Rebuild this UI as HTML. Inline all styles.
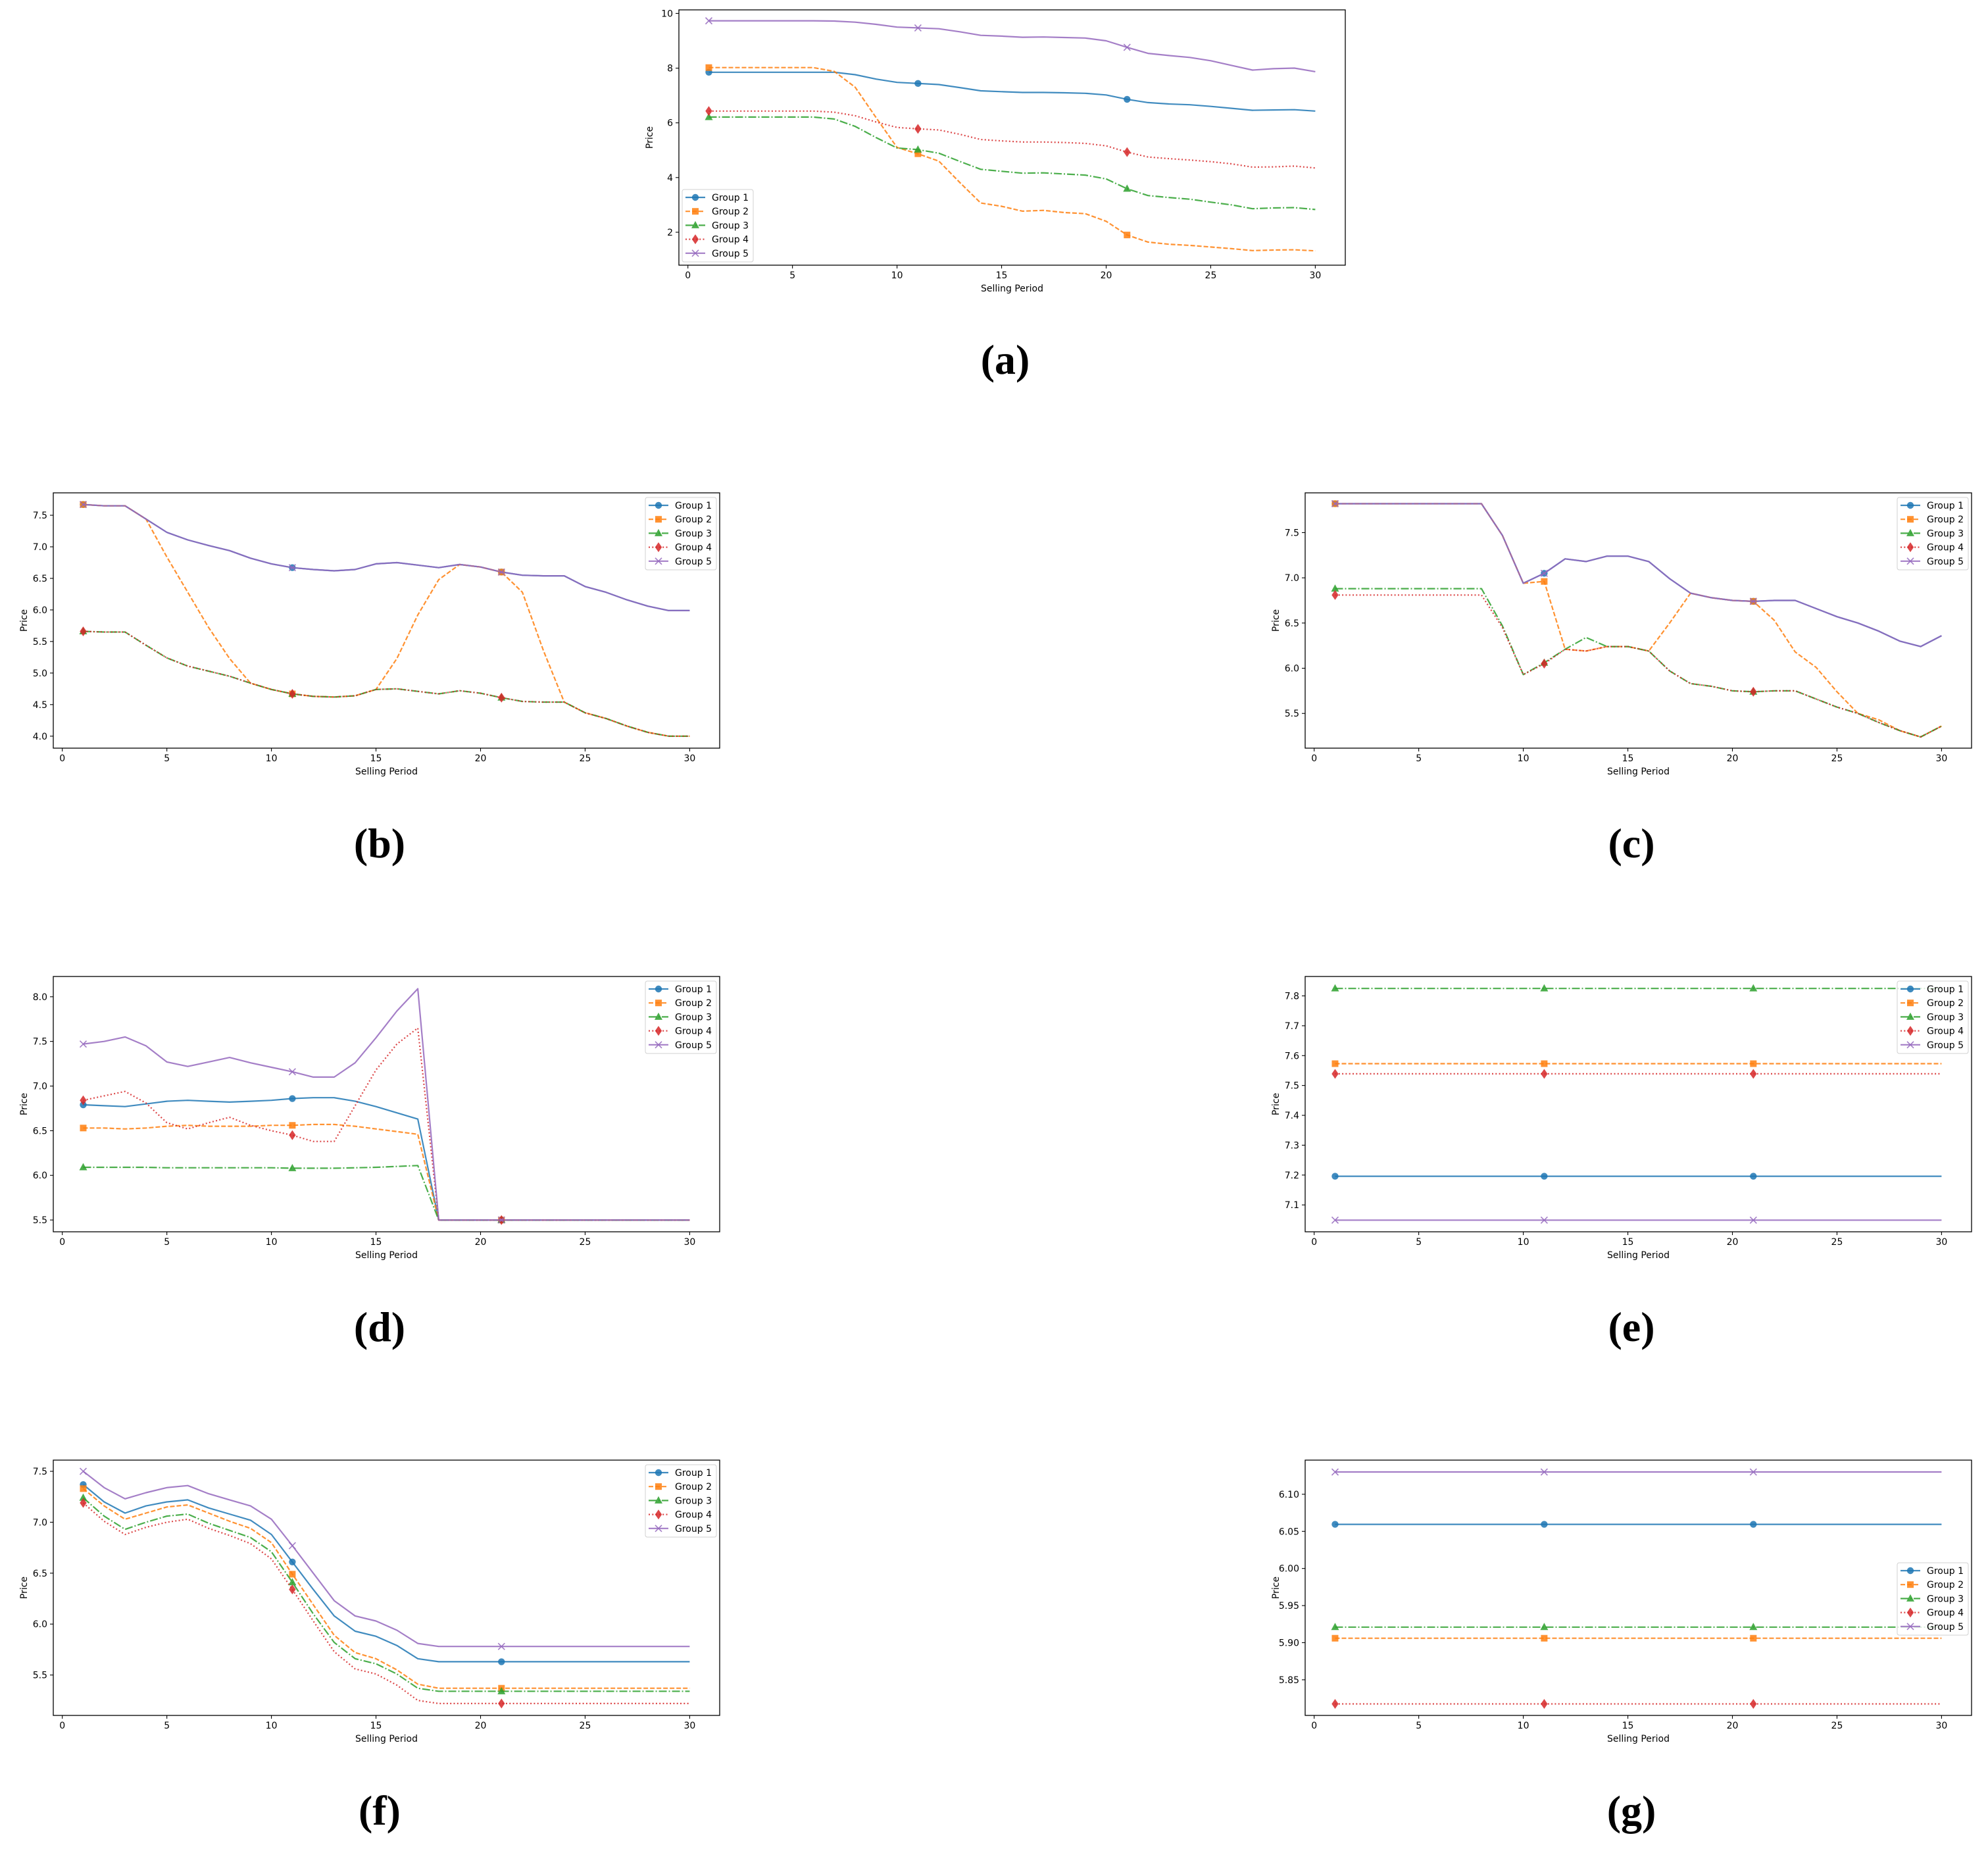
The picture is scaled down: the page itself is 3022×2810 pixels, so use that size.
<!DOCTYPE html>
<html><head><meta charset="utf-8"><style>
html,body{margin:0;padding:0;background:#fff;}
svg{display:block;}
text{font-family:"DejaVu Sans","Liberation Sans",sans-serif;}
.lbl{font-family:"Liberation Serif",serif;font-weight:bold;font-size:64px;}
</style></head><body>
<svg id="root" width="3022" height="2810" viewBox="0 0 3022 2810" xmlns="http://www.w3.org/2000/svg"></svg>
<script>
const periods = [1,2,3,4,5,6,7,8,9,10,11,12,13,14,15,16,17,18,19,20,21,22,23,24,25,26,27,28,29,30];
const groupNames = ["Group 1","Group 2","Group 3","Group 4","Group 5"];
const xTicks = [0,5,10,15,20,25,30];

const aG1 = [7.85,7.85,7.85,7.85,7.85,7.85,7.85,7.76,7.6,7.48,7.44,7.4,7.29,7.17,7.14,7.11,7.11,7.1,7.08,7.02,6.86,6.74,6.69,6.66,6.6,6.53,6.46,6.47,6.48,6.43];
const aG2 = [8.02,8.02,8.02,8.02,8.02,8.02,7.88,7.3,6.19,5.1,4.87,4.6,3.82,3.07,2.95,2.77,2.8,2.72,2.68,2.4,1.9,1.64,1.56,1.52,1.46,1.4,1.33,1.35,1.36,1.32];
const aG3 = [6.21,6.21,6.21,6.21,6.21,6.21,6.14,5.87,5.46,5.08,5.02,4.89,4.59,4.3,4.23,4.16,4.17,4.13,4.09,3.95,3.59,3.34,3.27,3.21,3.1,3.0,2.86,2.89,2.9,2.83];
const aG4 = [6.43,6.43,6.43,6.43,6.43,6.43,6.39,6.26,6.03,5.83,5.78,5.74,5.58,5.39,5.34,5.3,5.3,5.28,5.25,5.16,4.93,4.75,4.69,4.64,4.58,4.5,4.38,4.39,4.42,4.35];
const aG5 = [9.73,9.73,9.73,9.73,9.73,9.73,9.72,9.68,9.6,9.5,9.47,9.44,9.33,9.2,9.17,9.13,9.14,9.12,9.1,9.0,8.76,8.54,8.46,8.39,8.27,8.1,7.93,7.98,8.0,7.87];
const aYTicks = [2,4,6,8,10];

const bG1 = [7.67,7.65,7.65,7.44,7.23,7.11,7.02,6.94,6.82,6.73,6.67,6.64,6.62,6.64,6.73,6.75,6.71,6.67,6.72,6.68,6.6,6.55,6.54,6.54,6.37,6.28,6.16,6.06,5.99,5.99];
const bG2 = [7.67,7.65,7.65,7.44,6.84,6.28,5.72,5.23,4.84,4.74,4.67,4.63,4.62,4.64,4.74,5.23,5.92,6.48,6.72,6.68,6.6,6.28,5.36,4.54,4.37,4.28,4.16,4.06,4.0,4.0];
const bG3 = [5.66,5.65,5.65,5.44,5.24,5.11,5.03,4.95,4.84,4.74,4.67,4.63,4.62,4.64,4.74,4.75,4.71,4.67,4.72,4.68,4.61,4.55,4.54,4.54,4.37,4.28,4.16,4.06,4.0,4.0];
const bG4 = [5.66,5.65,5.65,5.44,5.24,5.11,5.03,4.95,4.84,4.74,4.67,4.63,4.62,4.64,4.74,4.75,4.71,4.67,4.72,4.68,4.61,4.55,4.54,4.54,4.37,4.28,4.16,4.06,4.0,4.0];
const bG5 = [7.67,7.65,7.65,7.44,7.23,7.11,7.02,6.94,6.82,6.73,6.67,6.64,6.62,6.64,6.73,6.75,6.71,6.67,6.72,6.68,6.6,6.55,6.54,6.54,6.37,6.28,6.16,6.06,5.99,5.99];
const bYTicks = [4.0,4.5,5.0,5.5,6.0,6.5,7.0,7.5];

const cG1 = [7.82,7.82,7.82,7.82,7.82,7.82,7.82,7.82,7.47,6.94,7.05,7.21,7.18,7.24,7.24,7.18,6.99,6.83,6.78,6.75,6.74,6.75,6.75,6.66,6.57,6.5,6.41,6.3,6.24,6.36];
const cG2 = [7.82,7.82,7.82,7.82,7.82,7.82,7.82,7.82,7.47,6.94,6.96,6.21,6.19,6.24,6.24,6.19,6.5,6.83,6.78,6.75,6.74,6.53,6.18,6.01,5.74,5.5,5.43,5.31,5.24,5.36];
const cG3 = [6.88,6.88,6.88,6.88,6.88,6.88,6.88,6.88,6.47,5.93,6.06,6.21,6.34,6.24,6.24,6.19,5.97,5.83,5.8,5.75,5.74,5.75,5.75,5.66,5.57,5.5,5.4,5.31,5.24,5.36];
const cG4 = [6.81,6.81,6.81,6.81,6.81,6.81,6.81,6.81,6.45,5.93,6.05,6.21,6.19,6.24,6.24,6.19,5.97,5.83,5.8,5.75,5.74,5.75,5.75,5.66,5.57,5.5,5.4,5.31,5.24,5.36];
const cG5 = [7.82,7.82,7.82,7.82,7.82,7.82,7.82,7.82,7.47,6.94,7.05,7.21,7.18,7.24,7.24,7.18,6.99,6.83,6.78,6.75,6.74,6.75,6.75,6.66,6.57,6.5,6.41,6.3,6.24,6.36];
const cYTicks = [5.5,6.0,6.5,7.0,7.5];

const dG1 = [6.79,6.78,6.77,6.8,6.83,6.84,6.83,6.82,6.83,6.84,6.86,6.87,6.87,6.83,6.77,6.7,6.63,5.5,5.5,5.5,5.5,5.5,5.5,5.5,5.5,5.5,5.5,5.5,5.5,5.5];
const dG2 = [6.53,6.53,6.52,6.53,6.55,6.56,6.55,6.55,6.55,6.56,6.56,6.57,6.57,6.55,6.52,6.49,6.46,5.5,5.5,5.5,5.5,5.5,5.5,5.5,5.5,5.5,5.5,5.5,5.5,5.5];
const dG3 = [6.09,6.09,6.09,6.09,6.085,6.085,6.085,6.085,6.085,6.085,6.08,6.08,6.08,6.085,6.09,6.1,6.11,5.5,5.5,5.5,5.5,5.5,5.5,5.5,5.5,5.5,5.5,5.5,5.5,5.5];
const dG4 = [6.84,6.89,6.94,6.81,6.59,6.52,6.59,6.65,6.56,6.5,6.45,6.38,6.38,6.78,7.18,7.47,7.65,5.5,5.5,5.5,5.5,5.5,5.5,5.5,5.5,5.5,5.5,5.5,5.5,5.5];
const dG5 = [7.47,7.5,7.55,7.45,7.27,7.22,7.27,7.32,7.26,7.21,7.16,7.1,7.1,7.26,7.54,7.84,8.09,5.5,5.5,5.5,5.5,5.5,5.5,5.5,5.5,5.5,5.5,5.5,5.5,5.5];
const dYTicks = [5.5,6.0,6.5,7.0,7.5,8.0];

const eValues = [7.196,7.573,7.825,7.539,7.049];
const eYTicks = [7.1,7.2,7.3,7.4,7.5,7.6,7.7,7.8];

const fG1 = [7.37,7.2,7.09,7.16,7.2,7.22,7.14,7.08,7.02,6.88,6.61,6.34,6.08,5.93,5.88,5.79,5.66,5.63,5.63,5.63,5.63,5.63,5.63,5.63,5.63,5.63,5.63,5.63,5.63,5.63];
const fG2 = [7.33,7.16,7.03,7.09,7.15,7.17,7.09,7.01,6.94,6.8,6.49,6.19,5.89,5.72,5.66,5.55,5.41,5.37,5.37,5.37,5.37,5.37,5.37,5.37,5.37,5.37,5.37,5.37,5.37,5.37];
const fG3 = [7.24,7.06,6.93,7.0,7.06,7.08,6.99,6.92,6.85,6.71,6.41,6.1,5.82,5.66,5.61,5.51,5.37,5.34,5.34,5.34,5.34,5.34,5.34,5.34,5.34,5.34,5.34,5.34,5.34,5.34];
const fG4 = [7.19,7.01,6.88,6.95,7.0,7.03,6.94,6.87,6.79,6.64,6.34,6.03,5.73,5.56,5.51,5.4,5.25,5.22,5.22,5.22,5.22,5.22,5.22,5.22,5.22,5.22,5.22,5.22,5.22,5.22];
const fG5 = [7.5,7.34,7.23,7.29,7.34,7.36,7.28,7.22,7.16,7.03,6.77,6.5,6.23,6.08,6.03,5.94,5.81,5.78,5.78,5.78,5.78,5.78,5.78,5.78,5.78,5.78,5.78,5.78,5.78,5.78];
const fYTicks = [5.5,6.0,6.5,7.0,7.5];

const gValues = [6.0595,5.906,5.921,5.8175,6.130];
const gYTicks = [5.85,5.90,5.95,6.00,6.05,6.10];

const NS = "http://www.w3.org/2000/svg";
const root = document.getElementById('root');
const colors = ["#1f77b4","#ff7f0e","#2ca02c","#d62728","#9467bd"];
const dashes = ["", "7,3", "12,3,2,3", "2,3.3", ""];
const markers = ["o","s","^","D","x"];
function mk(tag, attrs, parent){ const e=document.createElementNS(NS,tag); for(const k in attrs) e.setAttribute(k,attrs[k]); (parent||root).appendChild(e); return e; }
const flat = v => periods.map(()=>v);

function marker(g, type, x, y, c){
  let m;
  if(type==="o") m=mk('circle',{cx:x,cy:y,r:5.2,fill:c},g);
  else if(type==="s") m=mk('rect',{x:x-5,y:y-5,width:10,height:10,fill:c},g);
  else if(type==="^") m=mk('polygon',{points:`${x},${y-6.5} ${x-6},${y+4.5} ${x+6},${y+4.5}`,fill:c},g);
  else if(type==="D") m=mk('polygon',{points:`${x},${y-7.5} ${x-5.2},${y} ${x},${y+7.5} ${x+5.2},${y}`,fill:c},g);
  else m=mk('path',{d:`M${x-5},${y-5}L${x+5},${y+5}M${x-5},${y+5}L${x+5},${y-5}`,stroke:c,'stroke-width':1.6,fill:'none'},g);
  
  
}

function panel(id, L, T, ylo, yhi, yTicks, dec, series, legendPos, label, labelX, labelY){
  const W=1013, H=388;
  const g = mk('g',{});
  
  
  const xs = v => L+13.7 + v*31.79;
  const ys = v => T+H - (v-ylo)/(yhi-ylo)*H;
  const clip = mk('clipPath',{id:'clip'+id},g);
  mk('rect',{x:L,y:T,width:W,height:H},clip);
  const sg = mk('g',{'clip-path':`url(#clip${id})`},g);
  series.forEach((s,i)=>{
    const pts = periods.map((p,j)=>xs(p).toFixed(1)+','+ys(s[j]).toFixed(1)).join(' ');
    const pl = mk('polyline',{points:pts,fill:'none',stroke:colors[i],'stroke-width':2.2,'stroke-opacity':0.85,'stroke-dasharray':dashes[i],'stroke-linejoin':'round'},sg);
    
    
    const mg = mk('g',{opacity:0.85},sg);
    [0,10,20].forEach(j=>marker(mg, markers[i], xs(periods[j]), ys(s[j]), colors[i]));
  });
  const frame = mk('rect',{x:L,y:T,width:W,height:H,fill:'none',stroke:'#000','stroke-width':1.3},g);
  
  
  xTicks.forEach(t=>{
    const x=xs(t);
    mk('line',{x1:x,y1:T+H,x2:x,y2:T+H+5,stroke:'#000','stroke-width':1.1},g);
    const tx=mk('text',{x:x,y:T+H+20,'font-size':14,'text-anchor':'middle',fill:'#000'},g);
    tx.textContent=t;
    
    
  });
  yTicks.forEach(t=>{
    const y=ys(t);
    mk('line',{x1:L,y1:y,x2:L-5,y2:y,stroke:'#000','stroke-width':1.1},g);
    const tx=mk('text',{x:L-9,y:y+5,'font-size':14,'text-anchor':'end',fill:'#000'},g);
    tx.textContent=t.toFixed(dec);
    
    
  });
  const xl=mk('text',{x:L+W/2,y:T+H+40,'font-size':14,'text-anchor':'middle',fill:'#000'},g);
  xl.textContent='Selling Period';
  
  
  const yx=L-40, yy=T+H/2;
  const yl=mk('text',{x:yx,y:yy,'font-size':14,'text-anchor':'middle',fill:'#000',transform:`rotate(-90 ${yx} ${yy})`},g);
  yl.textContent='Price';
  
  
  const lw=108, lh=110;
  let lx, ly;
  if(legendPos==='ll'){ lx=L+5; ly=T+H-5-lh; }
  else if(legendPos==='cr'){ lx=L+W-5-lw; ly=T+H/2-lh/2+17; }
  else { lx=L+W-5-lw; ly=T+7; }
  const lg=mk('g',{},g);
  
  
  mk('rect',{x:lx,y:ly,width:lw,height:lh,rx:3,fill:'#fff','fill-opacity':0.8,stroke:'#d0d0d0','stroke-width':1},lg);
  groupNames.forEach((n,i)=>{
    const cy=ly+12+i*21.2;
    const e=mk('g',{},lg);
    
    
    mk('line',{x1:lx+5,y1:cy,x2:lx+35,y2:cy,stroke:colors[i],'stroke-width':2.2,'stroke-opacity':0.85,'stroke-dasharray':dashes[i]},e);
    const mg=mk('g',{opacity:0.85},e);
    marker(mg, markers[i], lx+20, cy, colors[i]);
    const t=mk('text',{x:lx+45,y:cy+5,'font-size':14,fill:'#000'},e);
    t.textContent=n;
  });
  const pl=mk('text',{x:labelX,y:labelY,'text-anchor':'middle',class:'lbl',fill:'#000'},g);
  pl.textContent=label;
  
  
}

panel('a',1032,15,0.796,10.13,aYTicks,0,[aG1,aG2,aG3,aG4,aG5],'ll','(a)',1528,568);
panel('b',81,749,3.81,7.855,bYTicks,1,[bG1,bG2,bG3,bG4,bG5],'ur','(b)',577,1303);
panel('c',1984,749,5.116,7.94,cYTicks,1,[cG1,cG2,cG3,cG4,cG5],'ur','(c)',2480,1303);
panel('d',81,1484,5.368,8.227,dYTicks,1,[dG1,dG2,dG3,dG4,dG5],'ur','(d)',577,2038);
panel('e',1984,1484,7.01,7.865,eYTicks,1,eValues.map(flat),'ur','(e)',2480,2038);
panel('f',81,2219,5.103,7.61,fYTicks,1,[fG1,fG2,fG3,fG4,fG5],'ur','(f)',577,2773);
panel('g',1984,2219,5.802,6.146,gYTicks,2,gValues.map(flat),'cr','(g)',2480,2773);
</script>
</body></html>
